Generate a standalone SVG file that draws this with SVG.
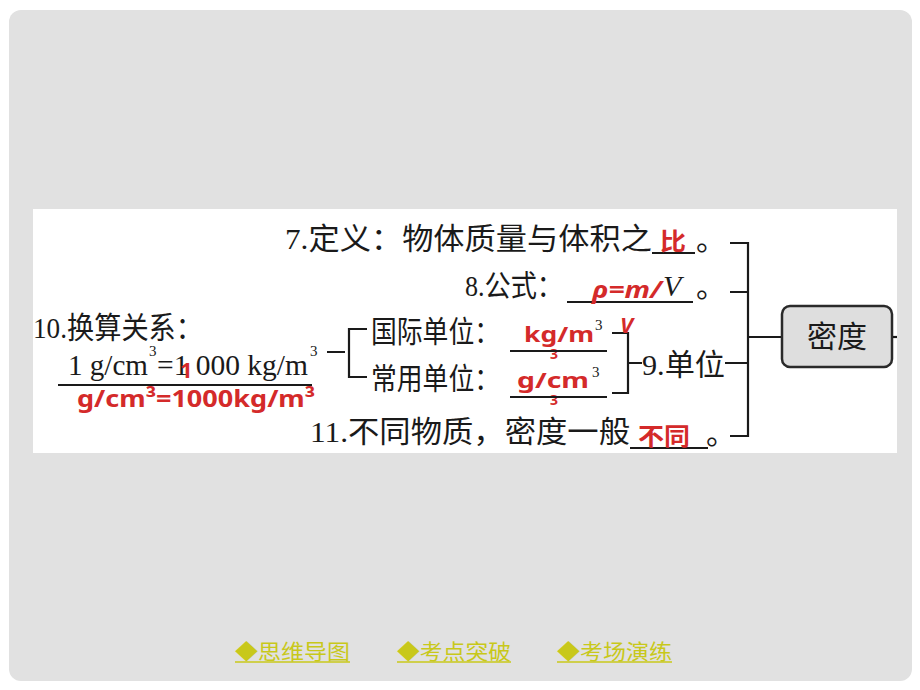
<svg xmlns="http://www.w3.org/2000/svg" width="920" height="690" viewBox="0 0 920 690">
<defs>
<style>
.t{font-family:"Liberation Serif","Noto Sans CJK SC",serif;font-size:30px;fill:#1a1a1a}
.sup{font-family:"Liberation Serif",serif;font-size:15px;fill:#1a1a1a}
.red{font-family:"Noto Sans","Noto Sans CJK SC",sans-serif;font-weight:bold;fill:#d42a2a}
.ul{stroke:#1a1a1a;stroke-width:2}
.c{stroke:#1a1a1a;stroke-width:2.2;fill:none}
.lk{font-family:"Noto Sans CJK SC","Noto Sans",sans-serif;font-size:21px;fill:#c8c81a}
.lkl{stroke:#c8c81a;stroke-width:1.5}
</style>
</defs>
<rect x="0" y="0" width="920" height="690" fill="#ffffff"/>
<rect x="9" y="10" width="903" height="671" rx="12" fill="#e1e1e1"/>
<rect x="33" y="209" width="864" height="244" fill="#ffffff"/>

<g id="connectors">
<path class="c" d="M730 243 H748 V436 H730 M730 292 H748 M725 363 H748 M748 337 H782"/>
<path class="c" d="M612 333 H628 V393 H612 M628 363 H642"/>
<path class="c" d="M327 352 H345 M367 329 H349 V377 H367"/>
<path class="c" d="M892 337 H897"/>
</g>

<g id="node-density">
<rect x="782" y="306" width="110" height="61" rx="8" fill="#dedede" stroke="#2a2a2a" stroke-width="2.5"/>
<text class="t" x="837" y="347" text-anchor="middle">密度</text>
</g>

<g id="node-7-definition">
<text class="t" x="285" y="249" textLength="367" lengthAdjust="spacingAndGlyphs">7.定义：物体质量与体积之</text>
<line class="ul" x1="652" y1="253" x2="695" y2="253"/>
<text class="red" x="660" y="250" font-size="24" textLength="26" lengthAdjust="spacingAndGlyphs">比</text>
<text class="t" x="696" y="250">。</text>
</g>

<g id="node-8-formula">
<text class="t" x="465" y="296" textLength="98" lengthAdjust="spacingAndGlyphs">8.公式：</text>
<line class="ul" x1="567" y1="302" x2="693" y2="302"/>
<text class="red" x="592" y="298" font-size="24" font-style="italic" textLength="70" lengthAdjust="spacingAndGlyphs">ρ=m/</text>
<text class="t" x="663" y="296" font-style="italic">V</text>
<text class="red" x="620" y="333" font-size="22" font-style="italic">V</text>
<text class="t" x="696" y="297">。</text>
</g>

<g id="node-10-conversion">
<text class="t" x="33" y="338" textLength="170" lengthAdjust="spacingAndGlyphs">10.换算关系：</text>
<text class="t" x="68" y="375" font-size="28" textLength="80" lengthAdjust="spacingAndGlyphs">1 g/cm</text>
<text class="sup" x="149" y="356">3</text>
<text class="t" x="157" y="375" font-size="28" textLength="151" lengthAdjust="spacingAndGlyphs">=1 000 kg/m</text>
<text class="sup" x="310" y="356">3</text>
<text class="red" x="180" y="378" font-size="22">1</text>
<line class="ul" x1="58" y1="385" x2="312" y2="385"/>
<text class="red" x="77" y="407" font-size="24" textLength="238" lengthAdjust="spacingAndGlyphs">g/cm³=1000kg/m³</text>
</g>

<g id="node-si-unit">
<text class="t" x="371" y="342" textLength="129" lengthAdjust="spacingAndGlyphs">国际单位：</text>
<text class="red" x="524" y="342" font-size="22" textLength="70" lengthAdjust="spacingAndGlyphs">kg/m</text>
<text class="sup" x="595" y="330">3</text>
<text class="red" x="550" y="359" font-size="14">3</text>
<line class="ul" x1="510" y1="351" x2="607" y2="351"/>
</g>

<g id="node-common-unit">
<text class="t" x="371" y="389" textLength="129" lengthAdjust="spacingAndGlyphs">常用单位：</text>
<text class="red" x="517" y="388" font-size="22" textLength="72" lengthAdjust="spacingAndGlyphs">g/cm</text>
<text class="sup" x="592" y="377">3</text>
<text class="red" x="550" y="405" font-size="14">3</text>
<line class="ul" x1="510" y1="397" x2="607" y2="397"/>
</g>

<g id="node-9-unit">
<text class="t" x="642" y="375" textLength="83" lengthAdjust="spacingAndGlyphs">9.单位</text>
</g>

<g id="node-11-different">
<text class="t" x="310" y="442" textLength="320" lengthAdjust="spacingAndGlyphs">11.不同物质，密度一般</text>
<line class="ul" x1="630" y1="448" x2="708" y2="448"/>
<text class="red" x="638" y="445" font-size="24" textLength="52" lengthAdjust="spacingAndGlyphs">不同</text>
<text class="t" x="706" y="444">。</text>
</g>

<g id="nav-links">
<text class="lk" x="235" y="659" textLength="115" lengthAdjust="spacingAndGlyphs">◆思维导图</text>
<line class="lkl" x1="235" y1="662" x2="350" y2="662"/>
<text class="lk" x="397" y="659" textLength="114" lengthAdjust="spacingAndGlyphs">◆考点突破</text>
<line class="lkl" x1="397" y1="662" x2="511" y2="662"/>
<text class="lk" x="557" y="659" textLength="115" lengthAdjust="spacingAndGlyphs">◆考场演练</text>
<line class="lkl" x1="557" y1="662" x2="672" y2="662"/>
</g>
</svg>
